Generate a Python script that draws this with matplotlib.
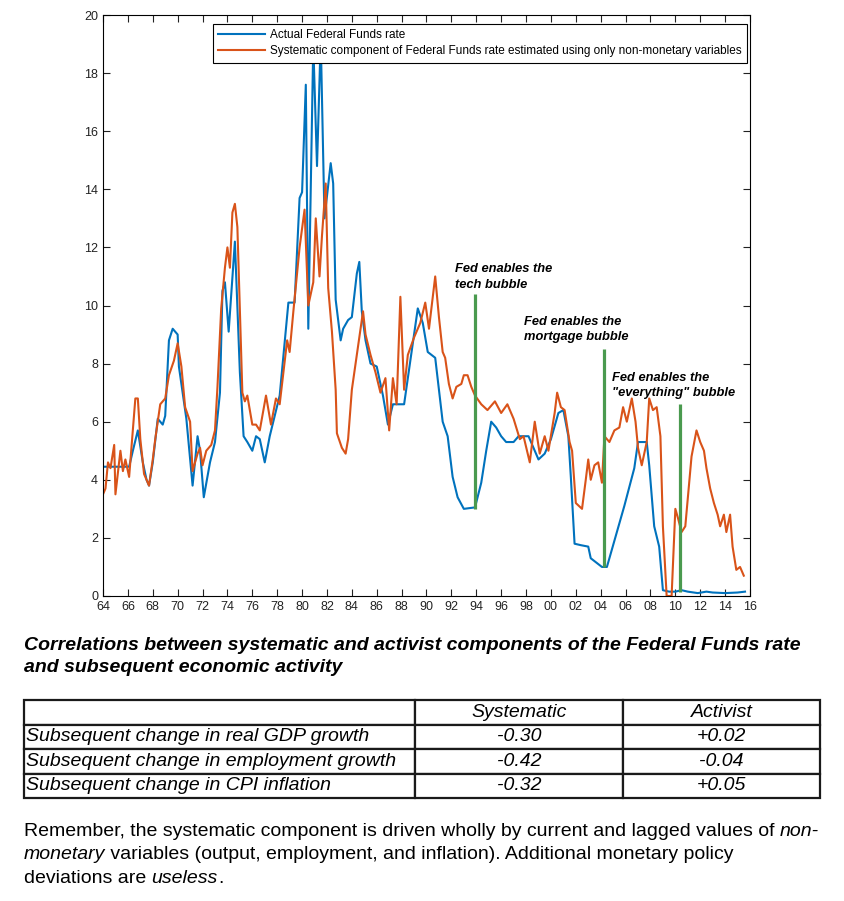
import matplotlib.pyplot as plt

plt.rcParams['font.family'] = ['Liberation Sans', 'DejaVu Sans']

# --- series (decimal years) ---
actual_years = [1964.0, 1965.0, 1966.1, 1966.4, 1966.8, 1967.2, 1967.5, 1967.7, 1968.0, 1968.4,
                1968.8, 1969.0, 1969.3, 1969.6, 1970.0, 1970.1, 1970.7, 1971.2, 1971.6, 1971.8,
                1972.1, 1972.6, 1973.0, 1973.4, 1973.6, 1973.8, 1974.1, 1974.6, 1975.0, 1975.3,
                1975.6, 1976.0, 1976.3, 1976.6, 1977.0, 1977.4, 1978.2, 1978.9, 1979.4, 1979.8,
                1980.0, 1980.3, 1980.5, 1980.9, 1981.2, 1981.5, 1981.8, 1982.3, 1982.5, 1982.7,
                1983.1, 1983.3, 1983.7, 1984.0, 1984.4, 1984.6, 1984.8, 1985.1, 1985.5, 1986.0,
                1986.5, 1986.9, 1987.3, 1987.7, 1988.2, 1988.6, 1989.3, 1989.7, 1990.1, 1990.7,
                1991.0, 1991.3, 1991.7, 1992.1, 1992.5, 1993.0, 1993.9, 1994.4, 1994.8, 1995.2,
                1995.6, 1996.0, 1996.4, 1997.0, 1997.4, 1998.2, 1998.7, 1999.0, 1999.5, 2000.0,
                2000.6, 2001.0, 2001.4, 2001.6, 2001.9, 2002.4, 2003.0, 2003.2, 2003.5, 2004.1,
                2004.5, 2005.1, 2005.9, 2006.7, 2007.0, 2007.7, 2007.9, 2008.3, 2008.7, 2009.0,
                2009.5, 2010.0, 2010.5, 2011.0, 2011.8, 2012.5, 2013.0, 2014.0, 2015.0, 2015.6]
actual_rate = [4.45, 4.45, 4.45, 5.0, 5.7, 4.6, 4.0, 3.8, 4.6, 6.1,
               5.9, 6.2, 8.8, 9.2, 9.0, 7.9, 6.1, 3.8, 5.5, 5.0,
               3.4, 4.6, 5.3, 7.0, 10.5, 10.8, 9.1, 12.2, 7.7, 5.5,
               5.3, 5.0, 5.5, 5.4, 4.6, 5.5, 6.9, 10.1, 10.1, 13.7,
               13.9, 17.6, 9.2, 19.0, 14.8, 19.2, 13.0, 14.9, 14.2, 10.2,
               8.8, 9.2, 9.5, 9.6, 11.1, 11.5, 9.8, 8.8, 8.0, 7.9,
               6.9, 5.9, 6.6, 6.6, 6.6, 7.8, 9.9, 9.4, 8.4, 8.2,
               7.1, 6.0, 5.5, 4.1, 3.4, 3.0, 3.05, 3.9, 5.0, 6.0,
               5.8, 5.5, 5.3, 5.3, 5.5, 5.5, 5.0, 4.7, 4.9, 5.4,
               6.3, 6.4, 5.5, 4.1, 1.8, 1.75, 1.7, 1.3, 1.2, 1.0,
               1.0, 1.9, 3.1, 4.4, 5.3, 5.3, 4.5, 2.4, 1.7, 0.2,
               0.15, 0.15, 0.2, 0.15, 0.1, 0.15, 0.12, 0.1, 0.12, 0.15]

syst_years = [1964.0, 1964.2, 1964.4, 1964.6, 1964.9, 1965.0, 1965.4, 1965.6, 1965.8, 1966.1,
              1966.4, 1966.6, 1966.8, 1967.0, 1967.3, 1967.7, 1968.0, 1968.2, 1968.6, 1969.0,
              1969.3, 1969.7, 1970.0, 1970.3, 1970.6, 1971.0, 1971.2, 1971.6, 1971.8, 1972.0,
              1972.3, 1972.7, 1973.0, 1973.2, 1973.5, 1973.8, 1974.0, 1974.2, 1974.4, 1974.6,
              1974.8, 1975.0, 1975.2, 1975.4, 1975.6, 1976.0, 1976.3, 1976.6, 1977.1, 1977.5,
              1977.9, 1978.2, 1978.8, 1979.0, 1979.3, 1979.8, 1980.2, 1980.5, 1980.9, 1981.1,
              1981.4, 1981.6, 1981.9, 1982.1, 1982.4, 1982.7, 1982.8, 1983.2, 1983.5, 1983.7,
              1984.0, 1984.4, 1984.6, 1984.9, 1985.1, 1985.5, 1985.9, 1986.3, 1986.7, 1987.0,
              1987.3, 1987.6, 1987.9, 1988.2, 1988.5, 1989.0, 1989.5, 1989.9, 1990.2, 1990.7,
              1991.0, 1991.3, 1991.5, 1991.8, 1992.1, 1992.4, 1992.8, 1993.0, 1993.3, 1993.6,
              1993.9, 1994.4, 1994.9, 1995.5, 1996.0, 1996.5, 1997.0, 1997.5, 1997.8, 1998.3,
              1998.7, 1999.1, 1999.5, 1999.8, 2000.3, 2000.5, 2000.8, 2001.1, 2001.5, 2001.7,
              2002.0, 2002.5, 2002.8, 2003.0, 2003.2, 2003.5, 2003.8, 2004.1, 2004.3, 2004.7,
              2005.1, 2005.5, 2005.8, 2006.1, 2006.5, 2006.8, 2007.0, 2007.3, 2007.7, 2007.9,
              2008.2, 2008.5, 2008.8, 2009.0, 2009.3, 2009.7, 2010.0, 2010.2, 2010.5, 2010.8,
              2011.3, 2011.7, 2012.0, 2012.3, 2012.5, 2012.8, 2013.1, 2013.4, 2013.6, 2013.9,
              2014.1, 2014.4, 2014.6, 2014.9, 2015.2, 2015.5]
syst_rate = [3.5, 3.7, 4.6, 4.4, 5.2, 3.5, 5.0, 4.3, 4.7, 4.1,
             5.7, 6.8, 6.8, 5.4, 4.2, 3.8, 4.7, 5.4, 6.6, 6.8,
             7.6, 8.1, 8.7, 7.9, 6.5, 6.0, 4.3, 4.9, 5.1, 4.5,
             5.0, 5.2, 5.7, 7.2, 9.9, 11.3, 12.0, 11.3, 13.2, 13.5,
             12.7, 9.8, 7.0, 6.7, 6.9, 5.9, 5.9, 5.7, 6.9, 5.9,
             6.8, 6.6, 8.8, 8.4, 9.8, 12.0, 13.3, 10.0, 10.8, 13.0,
             11.0, 12.4, 14.2, 10.6, 9.1, 7.1, 5.6, 5.1, 4.9, 5.4,
             7.1, 8.3, 8.9, 9.8, 9.0, 8.3, 7.7, 7.0, 7.5, 5.7,
             7.5, 6.6, 10.3, 7.1, 8.3, 8.9, 9.4, 10.1, 9.2, 11.0,
             9.6, 8.4, 8.2, 7.3, 6.8, 7.2, 7.3, 7.6, 7.6, 7.2,
             6.9, 6.6, 6.4, 6.7, 6.3, 6.6, 6.1, 5.4, 5.5, 4.6,
             6.0, 4.9, 5.5, 5.0, 6.3, 7.0, 6.5, 6.4, 5.3, 5.0,
             3.2, 3.0, 4.0, 4.7, 4.0, 4.5, 4.6, 3.9, 5.5, 5.3,
             5.7, 5.8, 6.5, 6.0, 6.8, 6.0, 5.1, 4.5, 5.3, 6.8,
             6.4, 6.5, 5.5, 2.4, 0.0, 0.0, 3.0, 2.7, 2.2, 2.4,
             4.8, 5.7, 5.3, 5.0, 4.4, 3.7, 3.2, 2.8, 2.4, 2.8,
             2.2, 2.8, 1.7, 0.9, 1.0, 0.7]

bubble_years = [1993.9, 2004.3, 2010.4]
bubble_low = [3.0, 1.0, 0.15]
bubble_high = [10.4, 8.5, 6.6]
bubble_labels = ['Fed enables the\ntech bubble',
                 'Fed enables the\nmortgage bubble',
                 'Fed enables the\n"everything" bubble']
label_pos = [(1992.3, 11.45), (1997.8, 9.65), (2004.9, 7.72)]

row_labels = ['Subsequent change in real GDP growth',
              'Subsequent change in employment growth',
              'Subsequent change in CPI inflation']
col_labels = ['', 'Systematic', 'Activist']
systematic_corr = ['-0.30', '-0.42', '-0.32']
activist_corr = ['+0.02', '-0.04', '+0.05']

W, H = 845, 901
fig = plt.figure(figsize=(W / 100, H / 100), dpi=100)

# chart
ax = fig.add_axes([103 / W, (H - 596) / H, (750 - 103) / W, (596 - 15) / H])
ax.plot(actual_years, actual_rate, color='#0072BD', lw=1.5,
        label='Actual Federal Funds rate')
ax.plot(syst_years, syst_rate, color='#D95319', lw=1.5,
        label='Systematic component of Federal Funds rate estimated using only non-monetary variables')
ax.vlines(bubble_years, bubble_low, bubble_high, color='#4a9a4f', lw=2.3, zorder=3)
for txt, (bx, by) in zip(bubble_labels, label_pos):
    ax.text(bx, by, txt, fontsize=9.3, fontweight='bold', fontstyle='italic',
            va='top', ha='left', linespacing=1.4)

ax.set_xlim(1964, 2016)
ax.set_ylim(0, 20)
xt = list(range(1964, 2017, 2))
ax.set_xticks(xt)
ax.set_xticklabels([f'{y % 100:02d}' for y in xt])
ax.set_yticks(range(0, 21, 2))
ax.tick_params(direction='in', top=True, right=True, length=5, width=0.8,
               labelsize=9, colors='#222222')
for s in ax.spines.values():
    s.set_linewidth(0.8)
leg = ax.legend(loc='upper right', bbox_to_anchor=((747 - 103) / 647, (596 - 24) / 581),
                fontsize=8.5, handlelength=4, fancybox=False,
                framealpha=1, edgecolor='black', borderpad=0.45, labelspacing=0.35,
                borderaxespad=0, handletextpad=0.4)
leg.get_frame().set_linewidth(0.8)

# lower part: pixel coordinates
bx_ = fig.add_axes([0, 0, 1, 1])
bx_.set_xlim(0, W)
bx_.set_ylim(H, 0)
bx_.axis('off')

bx_.text(24, 645, 'Correlations between systematic and activist components of the Federal Funds rate',
         fontsize=14, fontweight='bold', fontstyle='italic', va='center')
bx_.text(24, 668, 'and subsequent economic activity',
         fontsize=14, fontweight='bold', fontstyle='italic', va='center')

cells = [[r, s, a] for r, s, a in zip(row_labels, systematic_corr, activist_corr)]
tab = bx_.table(cellText=cells, colLabels=col_labels,
                colWidths=[391 / 796, 208 / 796, 197 / 796],
                bbox=[24 / W, (H - 798) / H, 796 / W, 98 / H], cellLoc='center')
tab.auto_set_font_size(False)
tab.set_fontsize(14)
for (r, c), cell in tab.get_celld().items():
    cell.set_linewidth(1.6)
    cell.set_edgecolor('#1a1a1a')
    cell.get_text().set_fontstyle('italic')
    if c == 0:
        cell.get_text().set_ha('left')
        cell.PAD = 0.005

# paragraph with italic words
fig.canvas.draw()
rend = fig.canvas.get_renderer()
inv = bx_.transData.inverted()


def write_line(y, parts):
    x = 24
    for s, it in parts:
        t = bx_.text(x, y, s, fontsize=14, fontstyle='italic' if it else 'normal',
                     va='baseline', ha='left')
        ext = t.get_window_extent(rend)
        x = inv.transform((ext.x1, 0))[0]


write_line(836, [('Remember, the systematic component is driven wholly by current and lagged values of ', False),
                 ('non-', True)])
write_line(859, [('monetary', True),
                 (' variables (output, employment, and inflation). Additional monetary policy', False)])
write_line(883, [('deviations are ', False), ('useless', True), ('.', False)])

fig.savefig('out.png', dpi=100)
